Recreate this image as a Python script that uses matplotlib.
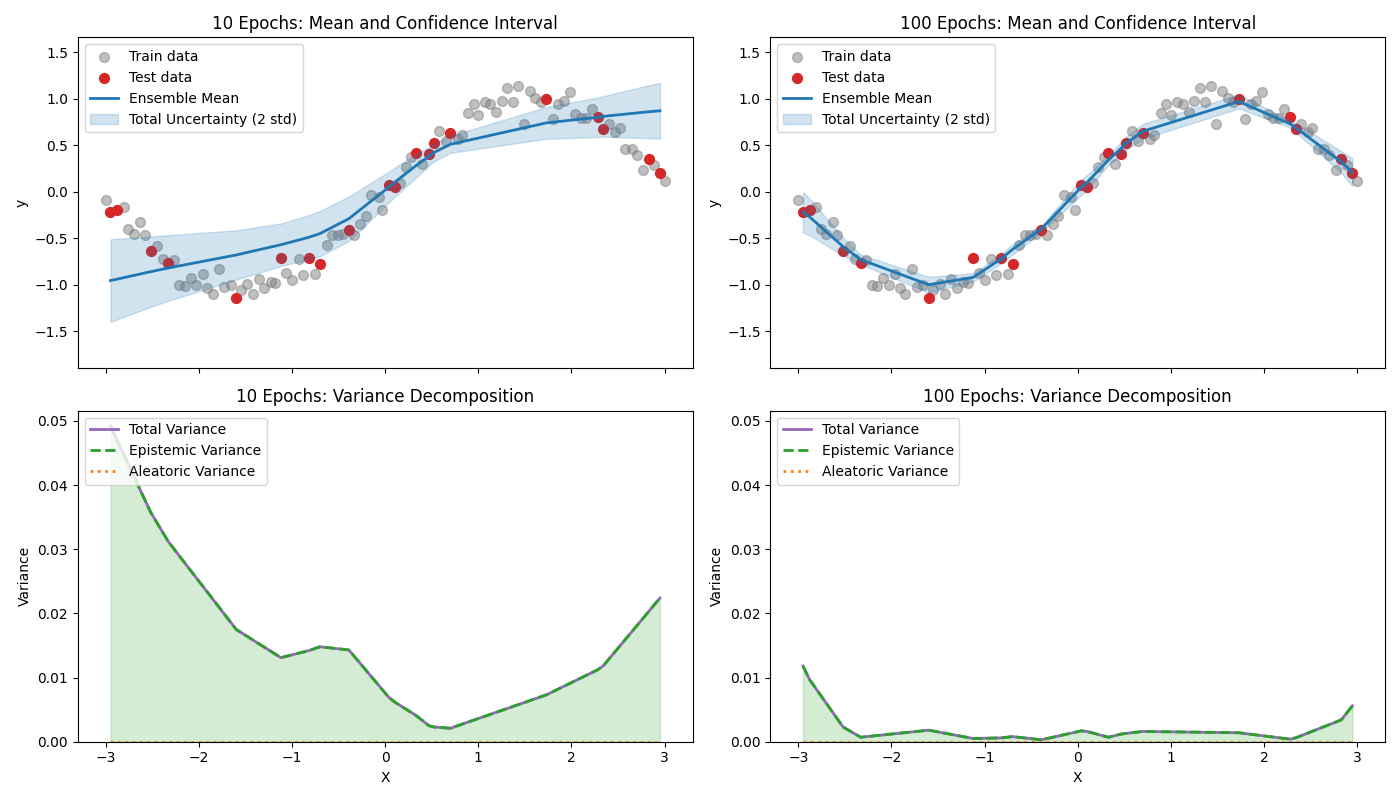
import numpy as np
import matplotlib.pyplot as plt

# training points
x_train = [-3.00, -2.81, -2.76, -2.70, -2.63, -2.58, -2.45, -2.39, -2.27, -2.21,
           -2.15, -2.09, -2.03, -1.96, -1.91, -1.85, -1.78, -1.73, -1.66, -1.55,
           -1.48, -1.42, -1.36, -1.30, -1.23, -1.18, -1.06, -1.00, -0.93, -0.88,
           -0.75, -0.63, -0.57, -0.51, -0.45, -0.33, -0.27, -0.21, -0.15, -0.07,
           -0.03, 0.16, 0.22, 0.28, 0.40, 0.58, 0.65, 0.78, 0.82, 0.89,
           0.95, 1.00, 1.07, 1.13, 1.19, 1.25, 1.31, 1.37, 1.43, 1.49,
           1.55, 1.61, 1.67, 1.80, 1.86, 1.92, 1.98, 2.04, 2.10, 2.16,
           2.22, 2.40, 2.47, 2.52, 2.58, 2.65, 2.70, 2.77, 2.89, 3.00]
y_train = [-0.09, -0.16, -0.40, -0.45, -0.33, -0.46, -0.58, -0.72, -0.73, -1.00,
           -1.01, -0.93, -1.00, -0.89, -1.04, -1.10, -0.83, -1.02, -1.00, -1.06,
           -0.99, -1.10, -0.94, -1.03, -0.97, -0.98, -0.87, -0.95, -0.72, -0.90,
           -0.89, -0.57, -0.47, -0.47, -0.45, -0.47, -0.35, -0.26, -0.04, -0.06,
           -0.20, 0.09, 0.27, 0.37, 0.30, 0.65, 0.55, 0.57, 0.61, 0.85,
           0.94, 0.83, 0.97, 0.94, 0.86, 0.98, 1.12, 0.97, 1.14, 0.73,
           1.08, 1.01, 0.96, 0.78, 0.94, 0.98, 1.07, 0.84, 0.79, 0.79,
           0.89, 0.73, 0.64, 0.68, 0.46, 0.46, 0.39, 0.23, 0.29, 0.12]

# test points (predictions are evaluated at these x)
x_test = [-2.95, -2.88, -2.52, -2.33, -1.60, -1.12, -0.82, -0.70, -0.39, 0.04,
          0.10, 0.33, 0.47, 0.52, 0.70, 1.73, 2.28, 2.34, 2.83, 2.95]
y_test = [-0.22, -0.20, -0.64, -0.77, -1.14, -0.71, -0.71, -0.78, -0.41, 0.07,
          0.05, 0.42, 0.41, 0.52, 0.63, 1.00, 0.80, 0.67, 0.35, 0.20]

# ensemble results, 10 epochs
mean_10 = [-0.955, -0.94, -0.86, -0.82, -0.68, -0.57, -0.49, -0.45, -0.29, 0.05,
           0.10, 0.28, 0.38, 0.42, 0.51, 0.74, 0.80, 0.81, 0.86, 0.87]
epi_10 = [0.0492, 0.0470, 0.0358, 0.0312, 0.0175, 0.0131, 0.0142, 0.0148, 0.0143, 0.0069,
          0.0062, 0.0041, 0.0025, 0.0023, 0.0021, 0.0073, 0.0112, 0.0118, 0.0203, 0.0224]
ale_10 = [0.0] * 20

# ensemble results, 100 epochs
mean_100 = [-0.22, -0.27, -0.59, -0.73, -1.00, -0.92, -0.72, -0.62, -0.40, 0.05,
            0.10, 0.34, 0.47, 0.52, 0.65, 0.97, 0.73, 0.69, 0.32, 0.21]
epi_100 = [0.0118, 0.0097, 0.0023, 0.0007, 0.0018, 0.0005, 0.0006, 0.0008, 0.0003, 0.0017,
           0.0016, 0.0007, 0.0012, 0.0013, 0.0016, 0.0014, 0.0004, 0.0006, 0.0034, 0.0056]
ale_100 = [0.0] * 20

runs = [('10 Epochs', mean_10, epi_10, ale_10),
        ('100 Epochs', mean_100, epi_100, ale_100)]

fig, axes = plt.subplots(2, 2, figsize=(14, 8), sharex=True, sharey='row')

for col, (name, mean, epi, ale) in enumerate(runs):
    mean = np.array(mean)
    epi = np.array(epi)
    ale = np.array(ale)
    total = epi + ale
    std = np.sqrt(total)

    ax = axes[0, col]
    ax.scatter(x_train, y_train, color='gray', alpha=0.5, s=50, label='Train data')
    ax.scatter(x_test, y_test, color='C3', s=50, label='Test data')
    ax.plot(x_test, mean, color='C0', lw=2, label='Ensemble Mean')
    ax.fill_between(x_test, mean - 2 * std, mean + 2 * std, color='C0', alpha=0.2,
                    label='Total Uncertainty (2 std)')
    ax.set_title(f'{name}: Mean and Confidence Interval')
    ax.set_ylabel('y')
    ax.set_ylim(-1.9, 1.66)
    ax.tick_params(labelleft=True)
    ax.legend(loc='upper left')

    ax = axes[1, col]
    ax.plot(x_test, total, color='C4', lw=2, label='Total Variance')
    ax.plot(x_test, epi, color='C2', lw=2, ls='--', label='Epistemic Variance')
    ax.plot(x_test, ale, color='C1', lw=2, ls=':', label='Aleatoric Variance')
    ax.fill_between(x_test, 0, epi, color='C2', alpha=0.2)
    ax.set_title(f'{name}: Variance Decomposition')
    ax.set_xlabel('X')
    ax.set_ylabel('Variance')
    ax.set_ylim(0, 0.0516)
    ax.tick_params(labelleft=True)
    ax.legend(loc='upper left')

plt.tight_layout()
plt.savefig('out.png', dpi=100)
